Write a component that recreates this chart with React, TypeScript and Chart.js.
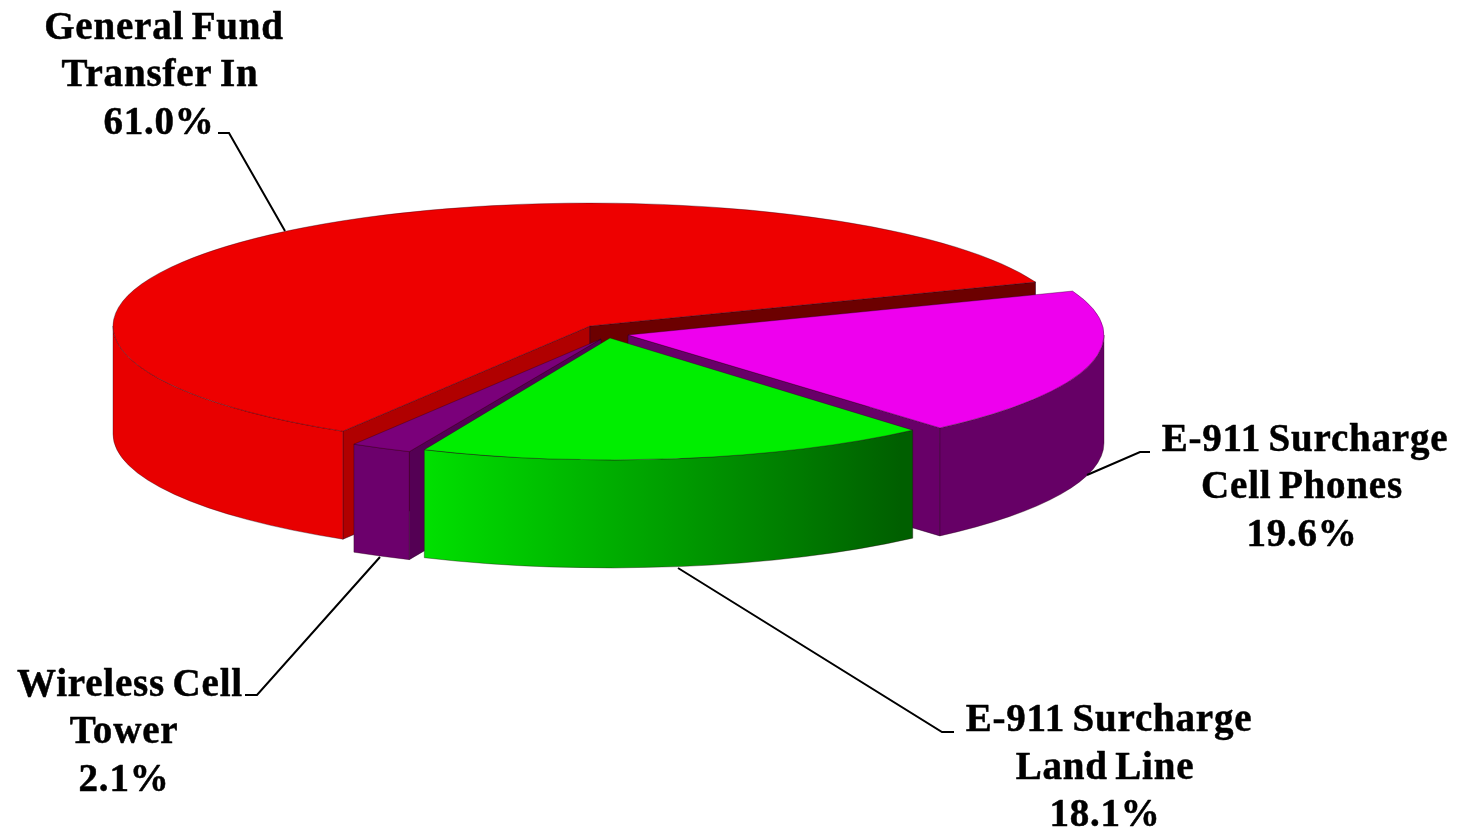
import React, { useEffect, useRef } from "react";
import { Chart, registerables } from "chart.js";

Chart.register(...registerables);

// ---- data ----
const categories = ["General Fund Transfer In", "E-911 Surcharge Cell Phones", "E-911 Surcharge Land Line", "Wireless Cell Tower"];
const values = [61.0, 19.6, 18.1, 2.1];
const labelLines = [["General Fund", "Transfer In"], ["E-911 Surcharge", "Cell Phones"], ["E-911 Surcharge", "Land Line"], ["Wireless Cell", "Tower"]];
const topColors = ["#ee0000", "#ee00ee", "#00ee00", "#7a007a"];
const wallColors = ["#e80000", "#660066", null, "#6c006c"];
const startFaceColors = ["#b00000", null, null, "#540054"];
const endFaceColors = ["#6c0000", "#680068", null, null];
const paintOrder = [0, 1, 3, 2];

// ---- layout ----
const W = 1469, H = 830;
const ROTATION = 211.2;
// exploded centre and squashed radii of every slice, in page pixels
const sliceCx = [590, 628, 610, 601];
const sliceCy = [326, 335, 338, 339];
const sliceRx = [477, 476, 462, 477];
const sliceRy = [123, 123, 122, 123];
const sliceDepth = [108, 108, 108, 108];
const labelCenters = [[164, 160, 159], [1305, 1302, 1302], [1109, 1105, 1105], [130, 124, 124]];
const labelBaselines = [[39, 86, 134], [451, 498, 546], [731, 779, 826], [696, 743, 791]];
const leaders = [
  [[218, 133], [229, 133], [285, 231]],
  [[1087, 475], [1140, 452], [1150, 452]],
  [[678, 568], [942, 732], [954, 732]],
  [[245, 695], [257, 695], [380, 557]],
];

function pieTransform(ctx: CanvasRenderingContext2D, arc: any, i: number, dy: number) {
  const sx = sliceRx[i] / arc.outerRadius;
  const sy = sliceRy[i] / arc.outerRadius;
  ctx.setTransform(sx, 0, 0, sy, sliceCx[i] - arc.x * sx, sliceCy[i] + dy - arc.y * sy);
}

function fillFace(ctx: CanvasRenderingContext2D, arc: any, i: number, angle: number, color: string | null) {
  if (!color) return;
  const px = arc.x + Math.cos(angle) * arc.outerRadius;
  const py = arc.y + Math.sin(angle) * arc.outerRadius;
  ctx.beginPath();
  pieTransform(ctx, arc, i, 0);
  ctx.moveTo(arc.x, arc.y);
  ctx.lineTo(px, py);
  pieTransform(ctx, arc, i, sliceDepth[i]);
  ctx.lineTo(px, py);
  ctx.lineTo(arc.x, arc.y);
  ctx.closePath();
  ctx.setTransform(1, 0, 0, 1, 0, 0);
  ctx.fillStyle = color;
  ctx.fill();
  ctx.strokeStyle = "rgba(40,0,40,0.5)";
  ctx.lineWidth = 1;
  ctx.stroke();
}

function fillWall(ctx: CanvasRenderingContext2D, arc: any, i: number, color: string | CanvasGradient) {
  for (const k of [0, 1]) {
    const lo = Math.max(arc.startAngle, k * 2 * Math.PI);
    const hi = Math.min(arc.endAngle, k * 2 * Math.PI + Math.PI);
    if (hi <= lo) continue;
    ctx.beginPath();
    pieTransform(ctx, arc, i, 0);
    ctx.arc(arc.x, arc.y, arc.outerRadius, lo, hi);
    pieTransform(ctx, arc, i, sliceDepth[i]);
    ctx.arc(arc.x, arc.y, arc.outerRadius, hi, lo, true);
    ctx.closePath();
    ctx.setTransform(1, 0, 0, 1, 0, 0);
    ctx.fillStyle = color;
    ctx.fill();
    ctx.strokeStyle = "rgba(40,0,20,0.35)";
    ctx.lineWidth = 1;
    ctx.stroke();
  }
}

const pie3d = {
  id: "pie3d",
  beforeDatasetDraw(chart: any) {
    const ctx: CanvasRenderingContext2D = chart.ctx;
    const arcs = chart.getDatasetMeta(0).data;
    ctx.save();
    for (const i of paintOrder) {
      const arc = arcs[i];
      fillFace(ctx, arc, i, arc.startAngle, startFaceColors[i]);
      fillFace(ctx, arc, i, arc.endAngle, endFaceColors[i]);
      let wall: any = wallColors[i];
      if (!wall) {
        wall = ctx.createLinearGradient(425, 0, 900, 0);
        wall.addColorStop(0, "#00e000");
        wall.addColorStop(1, "#005f00");
      }
      fillWall(ctx, arc, i, wall);
      pieTransform(ctx, arc, i, 0);
      arc.draw(ctx);
      ctx.beginPath();
      ctx.moveTo(arc.x, arc.y);
      ctx.arc(arc.x, arc.y, arc.outerRadius, arc.startAngle, arc.endAngle);
      ctx.closePath();
      ctx.setTransform(1, 0, 0, 1, 0, 0);
      ctx.strokeStyle = "rgba(30,0,20,0.35)";
      ctx.lineWidth = 1;
      ctx.stroke();
    }
    ctx.restore();
    return false;
  },
  afterDraw(chart: any) {
    const ctx: CanvasRenderingContext2D = chart.ctx;
    ctx.save();
    ctx.strokeStyle = "#000000";
    ctx.lineWidth = 2;
    for (const line of leaders) {
      ctx.beginPath();
      line.forEach(([x, y], j) => (j ? ctx.lineTo(x, y) : ctx.moveTo(x, y)));
      ctx.stroke();
    }
    ctx.fillStyle = "#000000";
    ctx.font = 'bold 39px "Liberation Serif"';
    (ctx as any).letterSpacing = "0.8px";
    (ctx as any).wordSpacing = "-3px";
    ctx.textAlign = "center";
    ctx.textBaseline = "alphabetic";
    ctx.lineWidth = 0.5;
    ctx.lineJoin = "round";
    values.forEach((v, i) => {
      const lines = [...labelLines[i], v.toFixed(1) + "%"];
      lines.forEach((t, j) => {
        ctx.fillText(t, labelCenters[i][j], labelBaselines[i][j]);
        ctx.strokeText(t, labelCenters[i][j], labelBaselines[i][j]);
      });
    });
    ctx.restore();
  },
};

export default function App() {
  const ref = useRef<HTMLCanvasElement>(null);
  useEffect(() => {
    document.body.style.margin = "0";
    const chart = new Chart(ref.current as HTMLCanvasElement, {
      type: "pie",
      data: {
        labels: categories,
        datasets: [{ data: values, backgroundColor: topColors, borderWidth: 0 }],
      },
      options: {
        responsive: false,
        animation: false,
        rotation: ROTATION,
        layout: { padding: 0 },
        plugins: { legend: { display: false }, tooltip: { enabled: false }, title: { display: false } },
      },
      plugins: [pie3d],
    } as any);
    return () => chart.destroy();
  }, []);
  return (
    <div style={{ width: W, height: H, background: "#fff", overflow: "hidden" }}>
      <canvas ref={ref} width={W} height={H} style={{ display: "block" }} />
    </div>
  );
}
